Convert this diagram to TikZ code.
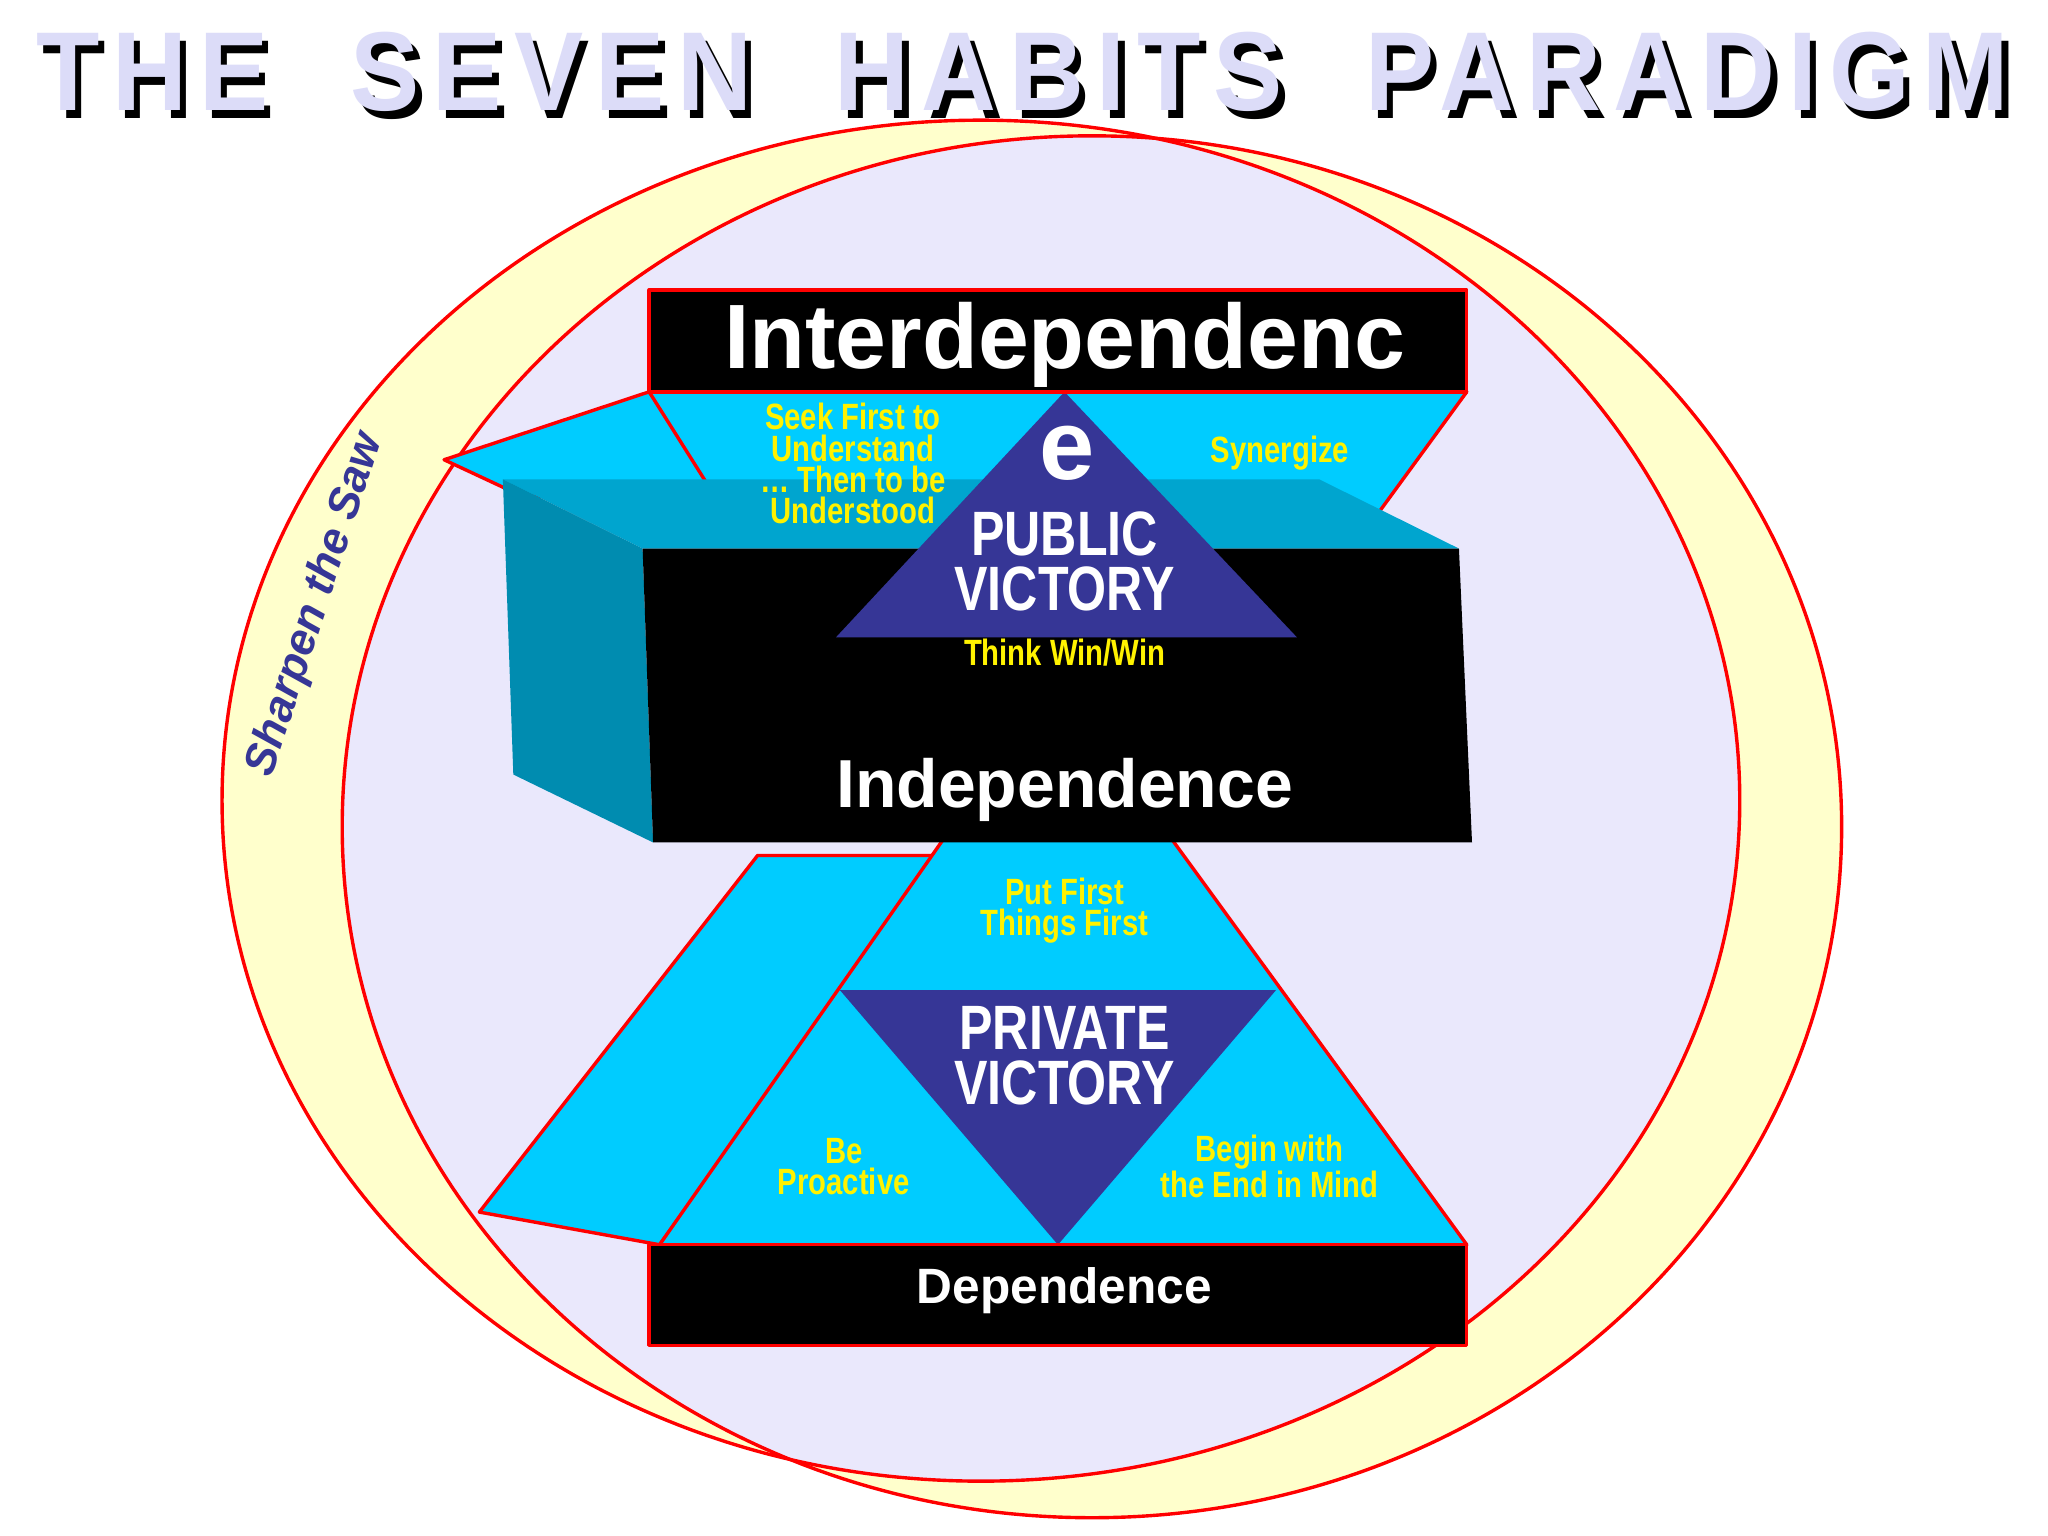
\documentclass[tikz,border=0pt]{standalone}
\usepackage{fontspec}
\setmainfont{Liberation Sans}
\newfontfamily\ttlfont[LetterSpace=12]{Liberation Sans}
\usepackage{graphicx}
\begin{document}
\begin{tikzpicture}[x=0.5pt,y=-0.5pt,
  rd/.style={draw=red,line width=1.3pt,line join=round},
  cy/.style={rd,fill=cyanA},
  ytxt/.style={text=yellow,font=\bfseries\fontsize{14}{12}\selectfont,align=center,inner sep=0pt},
  wtxt/.style={text=white,font=\bfseries,align=center,inner sep=0pt}]
\definecolor{cyanA}{HTML}{00CCFF}
\definecolor{cyanD}{HTML}{00A5CF}
\definecolor{tri}{HTML}{363696}
\definecolor{lav}{HTML}{EAE8FC}
\definecolor{ylw}{HTML}{FFFFCC}
\definecolor{ttl}{HTML}{DCDCF8}
\newcommand{\nw}[1]{\scalebox{0.8}[1]{#1}}
\newcommand{\ttltext}{\resizebox{755pt}{30pt}{\ttlfont\bfseries THE\ \ SEVEN\ \ HABITS\ \ PARADIGM}}
\useasboundingbox (0,0) rectangle (1568,1176);
\fill[white] (0,0) rectangle (1568,1176);
% title
\node[inner sep=0] (tsh) at (788,61) {\ttltext};
\node[inner sep=0,text=ttl] (ttl) at (783,55) {\ttltext};
% ellipses
\fill[ylw] (751,613) ellipse [x radius=581,y radius=521];
\fill[ylw] (836,633) ellipse [x radius=574,y radius=529];
\begin{scope}
\clip (751,613) ellipse [x radius=581,y radius=521];
\fill[lav] (836,633) ellipse [x radius=574,y radius=529];
\end{scope}
\draw[red,line width=1.3pt] (751,613) ellipse [x radius=581,y radius=521];
\draw[red,line width=1.3pt] (836,633) ellipse [x radius=574,y radius=529];
\node[rotate=72,text=tri,font=\bfseries\itshape\fontsize{17}{17}\selectfont] (saw) at (242,463) {Sharpen the Saw};
% lower shapes
\draw[cy] (580,655) -- (720,655) -- (505,953) -- (367,928) -- cycle;
\draw[cy] (505,953) -- (808,520) -- (1123,953) -- cycle;
\fill[tri] (643,758) -- (977,758) -- (810,953) -- cycle;
% top wing and trapezoid
\draw[cy] (340,352) -- (497,300) -- (560,380) -- (400,380) -- cycle;
\draw[cy] (497,300) -- (1123,300) -- (1050,400) -- (560,400) -- cycle;
% box
\fill[cyanD] (385,367) -- (1010,367) -- (1117,420) -- (492,420) -- cycle;
\fill[cyanD!85!black] (385,367) -- (492,420) -- (500,645) -- (393,593) -- cycle;
\fill[black] (492,420) -- (1117,420) -- (1127,645) -- (500,645) -- cycle;
% public triangle
\fill[tri] (815,300) -- (993,488) -- (640,488) -- cycle;
% bars
\draw[rd,fill=black] (497,222) rectangle (1123,300);
\draw[rd,fill=black] (497,953) rectangle (1123,1030);
% texts
\node[wtxt,font=\bfseries\fontsize{35}{35}\selectfont] (inter) at (815,264) {Interdependenc};
\node[wtxt,font=\bfseries\fontsize{38}{38}\selectfont] (e) at (817,347) {e};
\node[wtxt,font=\bfseries\fontsize{24}{24}\selectfont] (pub) at (815,430) {\nw{PUBLIC}\\[-3pt]\nw{VICTORY}};
\node[ytxt] (seek) at (653,355) {\nw{Seek First to}\\\nw{Understand}\\\nw{\dots\ Then to be}\\\nw{Understood}};
\node[ytxt] (syn) at (980,347) {\nw{Synergize}};
\node[ytxt] (win) at (815,500) {\nw{Think Win/Win}};
\node[wtxt,font=\bfseries\fontsize{26}{26}\selectfont] (ind) at (815,605) {Independence};
\node[ytxt] (put) at (815,697) {\nw{Put First}\\\nw{Things First}};
\node[wtxt,font=\bfseries\fontsize{24}{24}\selectfont] (pri) at (815,808) {\nw{PRIVATE}\\[-3pt]\nw{VICTORY}};
\node[ytxt] (pro) at (646,893) {\nw{Be}\\\nw{Proactive}};
\node[ytxt] (beg) at (972,893) {\nw{Begin with}\\\nw{the End in Mind}};
\node[wtxt,font=\bfseries\fontsize{19}{19}\selectfont] (dep) at (815,988) {Dependence};
\end{tikzpicture}
\end{document}
